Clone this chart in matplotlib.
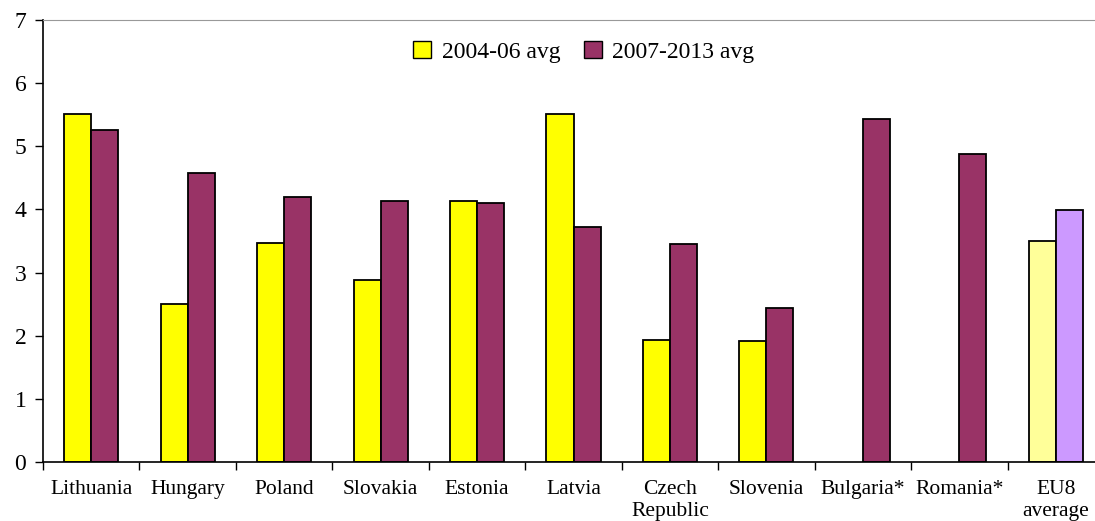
import matplotlib
matplotlib.use("Agg")
import matplotlib.pyplot as plt
import numpy as np
from matplotlib.patches import Patch

countries = ["Lithuania", "Hungary", "Poland", "Slovakia", "Estonia", "Latvia",
             "Czech\nRepublic", "Slovenia", "Bulgaria*", "Romania*", "EU8\naverage"]
avg_2004_06 = [5.51, 2.50, 3.47, 2.88, 4.13, 5.51, 1.93, 1.92, np.nan, np.nan, 3.50]
avg_2007_13 = [5.26, 4.58, 4.20, 4.13, 4.10, 3.72, 3.45, 2.44, 5.43, 4.88, 3.99]
series_labels = ["2004-06 avg", "2007-2013 avg"]

yellow, maroon = "#FFFF00", "#993366"
light_yellow, lilac = "#FFFF99", "#CC99FF"

plt.rcParams["font.family"] = ["Liberation Serif", "DejaVu Serif"]

fig = plt.figure(figsize=(10.95, 5.21), dpi=100)
ax = fig.add_axes([43 / 1095, 59 / 521, 1061 / 1095, 442 / 521])

n = len(countries)
x = np.arange(n)
w = 0.28
c1 = [yellow] * (n - 1) + [light_yellow]
c2 = [maroon] * (n - 1) + [lilac]
ax.bar(x - w / 2, avg_2004_06, w, color=c1, edgecolor="black", linewidth=1.3)
ax.bar(x + w / 2, avg_2007_13, w, color=c2, edgecolor="black", linewidth=1.3)

ax.set_xlim(-0.5, n - 0.5)
ax.set_ylim(0, 7)
ax.set_yticks(range(8))
ax.set_xticks(x)
ax.set_xticklabels(countries, fontsize=15.5, linespacing=1.2)
ax.set_xticks(np.arange(-0.5, n, 1.0), minor=True)
ax.tick_params(axis="x", which="major", length=0, pad=13)
ax.tick_params(axis="x", which="minor", length=6, width=1, direction="out")
ax.tick_params(axis="y", length=6, width=1, direction="out", labelsize=17, pad=6)

ax.spines["right"].set_visible(False)
ax.spines["top"].set_color("#999999")
ax.spines["left"].set_linewidth(1.2)
ax.spines["bottom"].set_linewidth(1.2)

handles = [Patch(facecolor=yellow, edgecolor="black"),
           Patch(facecolor=maroon, edgecolor="black")]
fig.legend(handles, series_labels, loc="center", bbox_to_anchor=(584 / 1095, 1 - 52 / 521),
           ncol=2, frameon=False, fontsize=17, handlelength=0.75, handleheight=0.75,
           handletextpad=0.45, columnspacing=1.0)

fig.savefig("out.png", dpi=100)
